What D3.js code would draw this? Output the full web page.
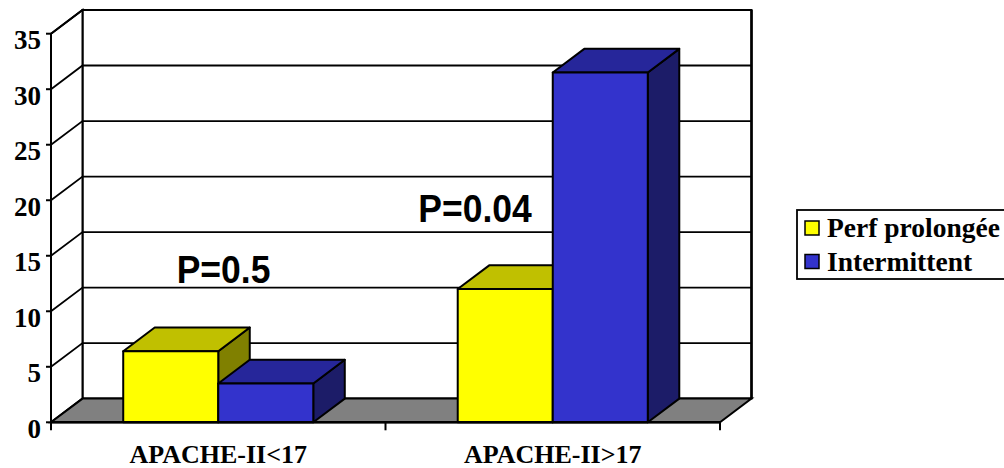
<!DOCTYPE html>
<html>
<head>
<meta charset="utf-8">
<script src="https://cdn.jsdelivr.net/npm/d3@7"></script>
<style>
  html, body { margin: 0; padding: 0; background: #fff; }
  svg { display: block; }
</style>
</head>
<body>
<svg id="chart" width="1004" height="468"></svg>
<script>
// Data
const categories = ["APACHE-II<17", "APACHE-II>17"];
const seriesNames = ["Perf prolongée", "Intermittent"];
const perfValues = [6.4, 12.0];
const intermittentValues = [3.5, 31.5];
const yTicks = [0, 5, 10, 15, 20, 25, 30, 35];
const pLabels = ["P=0.5", "P=0.04"];

// Colours: front, top, side faces
const palette = {
  "Perf prolongée": { front: "#ffff00", top: "#c0c000", side: "#808000" },
  "Intermittent":   { front: "#3333cc", top: "#26269a", side: "#1c1c68" }
};

const svg = d3.select("#chart");

// Layout of the 3D box
const x0 = 51, x1 = 720;          // front floor edge
const yBottom = 422.3, yTop = 33.7;
const DX = 31.5, DY = -23.7;      // depth offset

const y = d3.scaleLinear().domain([0, 35]).range([yBottom, yTop]);
const xCat = d3.scaleBand().domain(categories).range([x0, x1]).padding(0);
const xSer = d3.scaleBand().domain(seriesNames)
  .range([0, xCat.bandwidth()]).paddingInner(0).paddingOuter(0.76);

const rows = categories.map((c, i) => ({
  cat: c,
  values: [
    { name: seriesNames[0], value: perfValues[i] },
    { name: seriesNames[1], value: intermittentValues[i] }
  ]
}));

const pts = a => a.map(p => p.join(",")).join(" ");

// Walls
const g = svg.append("g");
g.append("polygon") // back wall
  .attr("points", pts([[x0 + DX, y(35) + DY], [x1 + DX, y(35) + DY], [x1 + DX, y(0) + DY], [x0 + DX, y(0) + DY]]))
  .attr("fill", "#fff").attr("stroke", "#000").attr("stroke-width", 2);
g.append("polygon") // side wall
  .attr("points", pts([[x0, y(35)], [x0 + DX, y(35) + DY], [x0 + DX, y(0) + DY], [x0, y(0)]]))
  .attr("fill", "#fff").attr("stroke", "#000").attr("stroke-width", 2);

// Gridlines on side and back walls
yTicks.filter(v => v > 0).forEach(v => {
  g.append("polyline")
    .attr("points", pts([[x0, y(v)], [x0 + DX, y(v) + DY], [x1 + DX, y(v) + DY]]))
    .attr("fill", "none").attr("stroke", "#000").attr("stroke-width", 1.8);
});
g.append("line")
  .attr("x1", x1 + DX).attr("x2", x1 + DX)
  .attr("y1", y(35) + DY).attr("y2", y(0) + DY)
  .attr("stroke", "#000").attr("stroke-width", 2.5);

// Floor
g.append("polygon")
  .attr("points", pts([[x0, y(0)], [x1, y(0)], [x1 + DX, y(0) + DY], [x0 + DX, y(0) + DY]]))
  .attr("fill", "#808080").attr("stroke", "#000").attr("stroke-width", 2);

// Bars
const bars = svg.append("g");
rows.forEach(r => {
  r.values.forEach(d => {
    const xl = xCat(r.cat) + xSer(d.name);
    const xr = xl + xSer.bandwidth();
    const yt = y(d.value), yb = y(0);
    const col = palette[d.name];
    const bg = bars.append("g").attr("stroke", "#000").attr("stroke-width", 2).attr("stroke-linejoin", "round");
    bg.append("polygon") // side
      .attr("points", pts([[xr, yt], [xr + DX, yt + DY], [xr + DX, yb + DY], [xr, yb]]))
      .attr("fill", col.side);
    bg.append("polygon") // top
      .attr("points", pts([[xl, yt], [xl + DX, yt + DY], [xr + DX, yt + DY], [xr, yt]]))
      .attr("fill", col.top);
    bg.append("rect") // front
      .attr("x", xl).attr("y", yt).attr("width", xr - xl).attr("height", yb - yt)
      .attr("fill", col.front);
  });
});

// Axes
const ax = svg.append("g");
ax.append("line").attr("x1", x0).attr("x2", x0).attr("y1", y(35)).attr("y2", y(0))
  .attr("stroke", "#000").attr("stroke-width", 2);
ax.append("line").attr("x1", x0 - 1).attr("x2", x1).attr("y1", y(0)).attr("y2", y(0))
  .attr("stroke", "#000").attr("stroke-width", 2.5);

yTicks.forEach(v => {
  ax.append("line").attr("x1", x0 - 5).attr("x2", x0).attr("y1", y(v)).attr("y2", y(v))
    .attr("stroke", "#000").attr("stroke-width", 2);
  ax.append("text").attr("x", 41).attr("y", y(v) + 15.5)
    .attr("text-anchor", "end")
    .attr("font-family", "Liberation Serif, Times New Roman, serif")
    .attr("font-weight", "bold").attr("font-size", 27)
    .text(v);
});

const catEdges = [x0, ...categories.map(c => xCat(c) + xCat.bandwidth())];
catEdges.forEach(xx => {
  ax.append("line").attr("x1", xx).attr("x2", xx).attr("y1", y(0)).attr("y2", y(0) + 8)
    .attr("stroke", "#000").attr("stroke-width", 2);
});
categories.forEach(c => {
  ax.append("text").attr("x", xCat(c) + xCat.bandwidth() / 2).attr("y", 462.5)
    .attr("text-anchor", "middle")
    .attr("font-family", "Liberation Serif, Times New Roman, serif")
    .attr("font-weight", "bold").attr("font-size", 26)
    .text(c);
});

// P-value annotations
const pPos = [[176.7, 283], [418.3, 221.7]];
pLabels.forEach((t, i) => {
  svg.append("text")
    .attr("transform", `translate(${pPos[i][0]},${pPos[i][1]}) scale(0.91,1)`)
    .attr("font-family", "Liberation Sans, Arial, sans-serif")
    .attr("font-weight", "bold").attr("font-size", 39)
    .text(t);
});

// Legend
const lg = svg.append("g");
lg.append("rect").attr("x", 797).attr("y", 210).attr("width", 230).attr("height", 69)
  .attr("fill", "#fff").attr("stroke", "#000").attr("stroke-width", 1.8);
seriesNames.forEach((s, i) => {
  const by = 237 + i * 33.5;
  lg.append("rect").attr("x", 805).attr("y", by - 16).attr("width", 14).attr("height", 14)
    .attr("fill", palette[s].front).attr("stroke", "#000").attr("stroke-width", 1.5);
  lg.append("text").attr("x", 827).attr("y", by)
    .attr("font-family", "Liberation Serif, Times New Roman, serif")
    .attr("font-weight", "bold").attr("font-size", 27.5)
    .text(s);
});
</script>
</body>
</html>
